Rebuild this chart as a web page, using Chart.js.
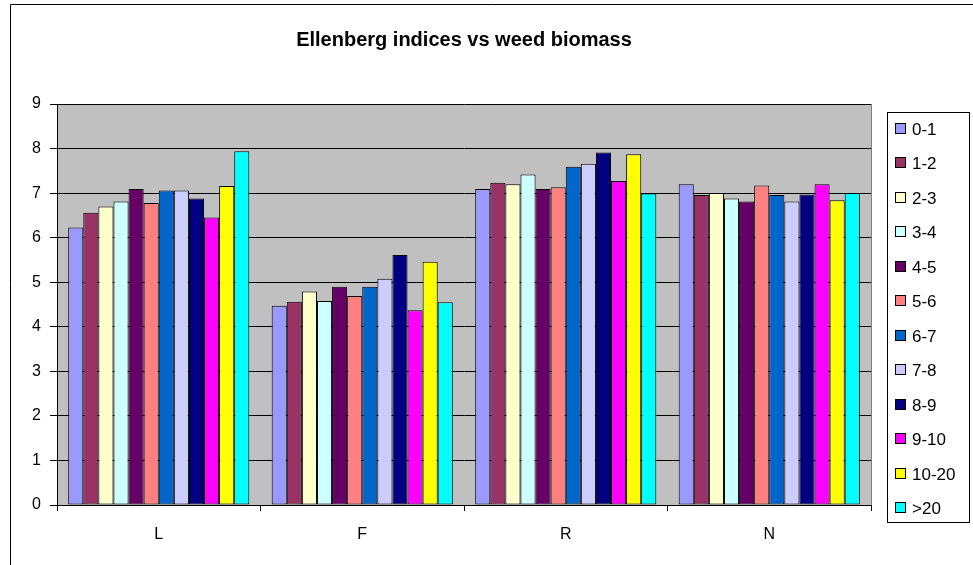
<!DOCTYPE html>
<html>
<head>
<meta charset="utf-8">
<script src="https://cdn.jsdelivr.net/npm/chart.js@4.4.0/dist/chart.umd.min.js"></script>
<style>
html, body { margin: 0; padding: 0; background: #fff; }
</style>
</head>
<body>
<canvas id="chart" width="973" height="565"></canvas>
<script>
// Ellenberg index groups on the x axis
const categories = ['L', 'F', 'R', 'N'];

// Weed biomass classes (one bar per class in each group)
const biomassClasses = ['0-1', '1-2', '2-3', '3-4', '4-5', '5-6', '6-7', '7-8', '8-9', '9-10', '10-20', '>20'];
const classColors = ['#9999FF', '#993366', '#FFFFCC', '#CCFFFF', '#660066', '#FF8080',
                     '#0066CC', '#CCCCFF', '#000080', '#FF00FF', '#FFFF00', '#00FFFF'];

// Values per index, in biomass class order
const lValues = [6.23, 6.56, 6.70, 6.81, 7.09, 6.78, 7.06, 7.06, 6.88, 6.45, 7.16, 7.94];
const fValues = [4.47, 4.56, 4.79, 4.58, 4.90, 4.69, 4.90, 5.08, 5.61, 4.37, 5.46, 4.55];
const rValues = [7.09, 7.23, 7.20, 7.42, 7.09, 7.13, 7.59, 7.66, 7.91, 7.27, 7.87, 6.99];
const nValues = [7.20, 6.96, 7.00, 6.88, 6.81, 7.17, 6.96, 6.81, 6.97, 7.20, 6.84, 7.00];

const yTicks = [0, 1, 2, 3, 4, 5, 6, 7, 8, 9];
const chartTitle = 'Ellenberg indices vs weed biomass';

const FONT = '"Liberation Sans", Arial, sans-serif';
Chart.defaults.font.family = FONT;
Chart.defaults.color = '#000';

// one dataset per biomass class
const datasets = biomassClasses.map((name, i) => ({
    label: name,
    data: [lValues[i], fValues[i], rValues[i], nValues[i]],
    backgroundColor: classColors[i],
    borderColor: '#000',
    borderWidth: 1,
    borderSkipped: false,
    categoryPercentage: 0.89,
    barPercentage: 1.0
}));

// Excel-style frame: grey plot area, title and boxed legend
const excelLook = {
    id: 'excelLook',
    beforeDraw(chart) {
        const ctx = chart.ctx;
        const a = chart.chartArea;
        ctx.save();
        ctx.fillStyle = '#fff';
        ctx.fillRect(0, 0, chart.width, chart.height);
        // outer chart border (only top and left visible)
        ctx.strokeStyle = '#000';
        ctx.lineWidth = 1;
        ctx.beginPath();
        ctx.moveTo(10.5, chart.height);
        ctx.lineTo(10.5, 4.5);
        ctx.lineTo(chart.width, 4.5);
        ctx.stroke();
        ctx.fillStyle = '#C0C0C0';
        ctx.fillRect(a.left, a.top, a.right - a.left, a.bottom - a.top);
        ctx.restore();
    },
    afterDraw(chart) {
        const ctx = chart.ctx;
        const a = chart.chartArea;
        ctx.save();
        // right edge of plot area
        ctx.strokeStyle = '#808080';
        ctx.lineWidth = 1;
        ctx.beginPath();
        ctx.moveTo(Math.round(a.right) + 0.5, a.top);
        ctx.lineTo(Math.round(a.right) + 0.5, a.bottom);
        ctx.stroke();

        // title
        ctx.fillStyle = '#000';
        ctx.font = 'bold 20px ' + FONT;
        ctx.textAlign = 'center';
        ctx.textBaseline = 'middle';
        ctx.fillText(chartTitle, 464, 40);

        // legend
        const lx = 887, ly = 112, lw = 82, lh = 410;
        ctx.strokeStyle = '#000';
        ctx.strokeRect(lx + 0.5, ly + 0.5, lw, lh);
        ctx.font = '17px ' + FONT;
        ctx.textAlign = 'left';
        chart.data.datasets.forEach((ds, i) => {
            const cy = Math.round(ly + 17 + i * 34.45);
            ctx.fillStyle = ds.backgroundColor;
            ctx.fillRect(896, cy - 5, 9, 9);
            ctx.strokeStyle = '#000';
            ctx.strokeRect(895.5, cy - 5.5, 10, 10);
            ctx.fillStyle = '#000';
            ctx.fillText(ds.label, 912, cy + 1);
        });
        ctx.restore();
    }
};

new Chart(document.getElementById('chart'), {
    type: 'bar',
    data: {
        labels: categories,
        datasets: datasets
    },
    options: {
        responsive: false,
        animation: false,
        devicePixelRatio: 1,
        layout: {
            padding: { top: 104, right: 102, left: 0, bottom: 0 }
        },
        plugins: {
            legend: { display: false },
            title: { display: false },
            tooltip: { enabled: false }
        },
        scales: {
            x: {
                offset: true,
                grid: {
                    display: true,
                    drawOnChartArea: false,
                    color: '#000',
                    tickLength: 6,
                    offset: true
                },
                border: { color: '#000' },
                ticks: { font: { size: 16 }, padding: 14, color: '#000' },
                afterFit(scale) { scale.height = 60; }
            },
            y: {
                min: yTicks[0],
                max: yTicks[yTicks.length - 1],
                afterBuildTicks(scale) {
                    scale.ticks = yTicks.map(v => ({ value: v }));
                },
                grid: { color: '#000', tickLength: 7 },
                border: { color: '#000' },
                ticks: { font: { size: 16 }, padding: 9, color: '#000' },
                afterFit(scale) { scale.width = 57; }
            }
        }
    },
    plugins: [excelLook]
});
</script>
</body>
</html>
